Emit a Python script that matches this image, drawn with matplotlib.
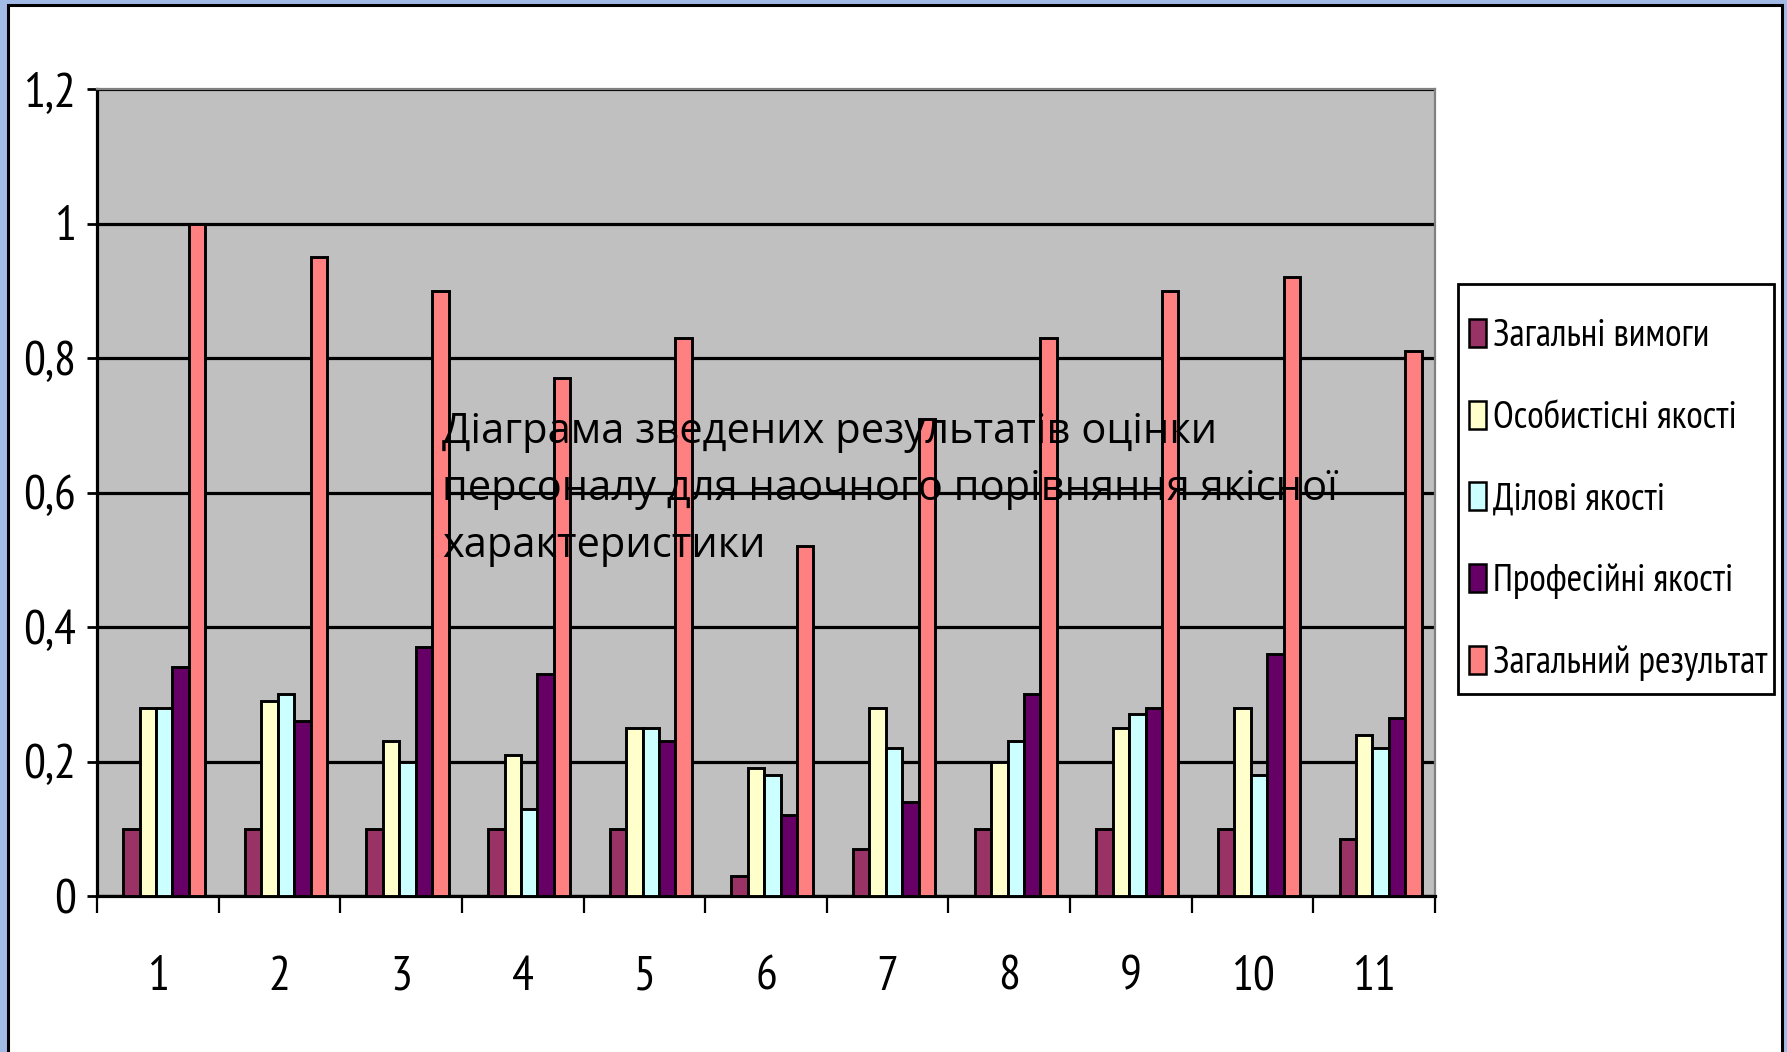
import matplotlib.pyplot as plt
from matplotlib.patches import Rectangle
import numpy as np

categories = ['1', '2', '3', '4', '5', '6', '7', '8', '9', '10', '11']
zahalni_vymohy = [0.1, 0.1, 0.1, 0.1, 0.1, 0.03, 0.07, 0.1, 0.1, 0.1, 0.085]
osobystisni = [0.28, 0.29, 0.23, 0.21, 0.25, 0.19, 0.28, 0.2, 0.25, 0.28, 0.24]
dilovi = [0.28, 0.3, 0.2, 0.13, 0.25, 0.18, 0.22, 0.23, 0.27, 0.18, 0.22]
profesiini = [0.34, 0.26, 0.37, 0.33, 0.23, 0.12, 0.14, 0.3, 0.28, 0.36, 0.265]
rezultat = [1.0, 0.95, 0.9, 0.77, 0.83, 0.52, 0.71, 0.83, 0.9, 0.92, 0.81]

series = [
    ('Загальні вимоги', zahalni_vymohy, '#993366'),
    ('Особистісні якості', osobystisni, '#FFFFCC'),
    ('Ділові якості', dilovi, '#CCFFFF'),
    ('Професійні якості', profesiini, '#660066'),
    ('Загальний результат', rezultat, '#FF8080'),
]
yticks = [0, 0.2, 0.4, 0.6, 0.8, 1.0, 1.2]

title_lines = ['Діаграма зведених результатів оцінки',
               'персоналу для наочного порівняння якісної',
               'характеристики']

narrow = ['PT Sans Narrow', 'Liberation Sans', 'DejaVu Sans']
W, H = 1787, 1052

fig = plt.figure(figsize=(W / 100, H / 100), dpi=100, facecolor='#A2BBE6')
# white sheet with a black frame, kept behind the axes
fig.patches.append(Rectangle((8 / W, -0.05), 1774 / W, 1.05 - 5.5 / H,
                             transform=fig.transFigure, facecolor='white',
                             edgecolor='black', linewidth=2.2, zorder=-10))

ax = fig.add_axes([97 / W, 1 - 896 / H, (1435 - 97) / W, (896 - 89) / H])
ax.set_facecolor('#C0C0C0')

x = np.arange(len(categories)) + 0.5
width = 0.135
offset = 0.053
for j, (name, vals, color) in enumerate(series):
    ax.bar(x + offset + (j - 2) * width, vals, width, color=color,
           edgecolor='black', linewidth=2.1, label=name, zorder=3)

ax.set_xlim(0, len(categories))
ax.set_ylim(0, 1.2)
ax.set_yticks(yticks)
ax.set_yticklabels([f'{v:g}'.replace('.', ',') for v in yticks],
                   family=narrow, fontsize=35)
ax.set_xticks(range(len(categories) + 1))
ax.set_xticklabels([])
ax.set_xticks(x, minor=True)
ax.set_xticklabels(categories, minor=True, family=narrow, fontsize=35)
ax.tick_params(axis='x', which='major', direction='out', length=12, width=1.6)
ax.tick_params(axis='x', which='minor', length=0, pad=43)
ax.tick_params(axis='y', direction='out', length=7, width=2, pad=8)

ax.set_axisbelow(True)
ax.yaxis.grid(True, color='black', linewidth=2.3)
for s in ('left', 'bottom'):
    ax.spines[s].set_color('black')
    ax.spines[s].set_linewidth(2.3)
for s in ('top', 'right'):
    ax.spines[s].set_color('#808080')
    ax.spines[s].set_linewidth(1.6)

# legend box on the right, entries spread out inside a taller frame
fig.patches.append(Rectangle((1458 / W, 1 - 694 / H), (1774 - 1458) / W,
                             (694 - 284) / H, transform=fig.transFigure,
                             facecolor='white', edgecolor='black',
                             linewidth=2.0, zorder=1))
handles, labels = ax.get_legend_handles_labels()
leg = fig.legend(handles, labels, loc='upper left',
                 bbox_to_anchor=(1458 / W, 1 - 308 / H), borderaxespad=0,
                 prop={'family': narrow, 'size': 27.3}, frameon=False,
                 handlelength=0.43, handleheight=0.75, handletextpad=0.2,
                 labelspacing=1.22, borderpad=0.3)
leg.set_zorder(2)
for h in leg.legend_handles:
    h.set_linewidth(1.8)

for i, line in enumerate(title_lines):
    fig.text(442 / W, 1 - (443 + 57 * i) / H, line, family='Open Sans',
             fontsize=30, va='baseline', ha='left', color='black', zorder=5)

fig.savefig('out.png', dpi=100, facecolor=fig.get_facecolor())
